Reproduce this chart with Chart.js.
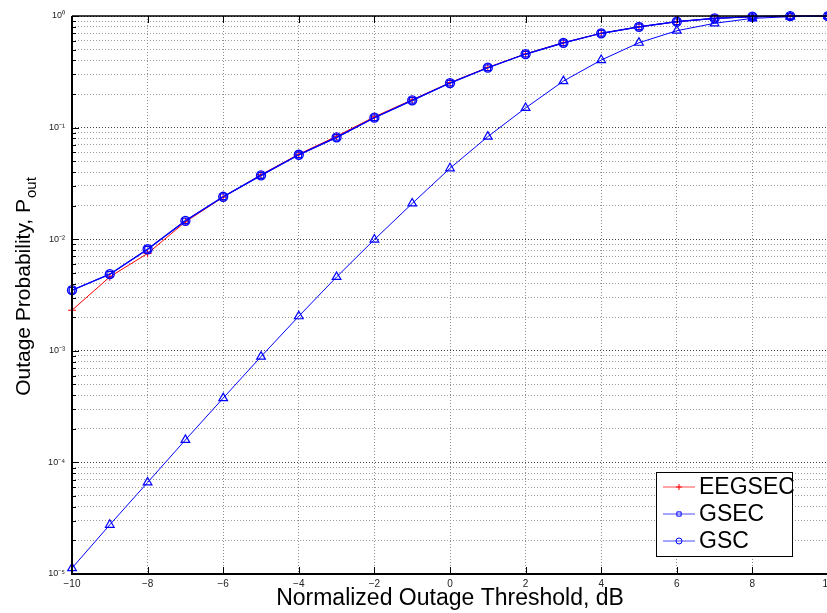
<!DOCTYPE html>
<html>
<head>
<meta charset="utf-8">
<title>Outage probability</title>
<script src="https://cdn.jsdelivr.net/npm/chart.js@4/dist/chart.umd.min.js"></script>
<style>
    html, body { margin: 0; padding: 0; background: #fff; overflow: hidden; }
    #outageChart { display: block; }
</style>
</head>
<body>
<canvas id="outageChart" width="850" height="613"></canvas>
<script>
// normalized outage threshold (dB)
var thresholds = [-10, -9, -8, -7, -6, -5, -4, -3, -2, -1, 0, 1, 2, 3, 4, 5, 6, 7, 8, 9, 10];

var eegsecValues = [2.31e-3, 4.60e-3, 7.45e-3, 0.0143, 0.0238, 0.0378, 0.0578, 0.0836, 0.1250, 0.1775, 0.2530, 0.3460, 0.4580, 0.5770,
    0.700, 0.800, 0.889, 0.953, 0.986, 0.996, 0.999];
var gsecValues = [3.49e-3, 4.85e-3, 8.13e-3, 0.0146, 0.0240, 0.0373, 0.0570, 0.0817, 0.1225, 0.1754, 0.2506, 0.3440, 0.4560, 0.5750,
    0.700, 0.800, 0.889, 0.953, 0.986, 0.996, 0.999];
var gscValues = [3.49e-3, 4.86e-3, 8.13e-3, 0.0146, 0.0240, 0.0373, 0.0571, 0.0818, 0.1226, 0.1755, 0.2507, 0.3440, 0.4560, 0.5750,
    0.700, 0.800, 0.889, 0.953, 0.986, 0.996, 0.999];
var lowerValues = [1.13e-5, 2.76e-5, 6.61e-5, 1.59e-4, 3.77e-4, 8.87e-4, 2.04e-3, 4.59e-3, 9.93e-3, 0.0209, 0.0432, 0.0830, 0.1500, 0.2610,
    0.403, 0.576, 0.738, 0.860, 0.953, 0.986, 0.997];

// x tick positions and y decade labels
var xTicks = [-10, -8, -6, -4, -2, 0, 2, 4, 6, 8, 10];
var yDecades = [1e-5, 1e-4, 1e-3, 1e-2, 1e-1, 1];
var yDecadeLabels = ['10\u207B\u2075', '10\u207B\u2074', '10\u207B\u00B3', '10\u207B\u00B2', '10\u207B\u00B9', '10\u2070'];

var fontFamily = '"Liberation Sans", Arial, Helvetica, sans-serif';

function toPoints(values) {
    return thresholds.map(function (t, i) { return {x: t, y: values[i]}; });
}

function isDecade(v) {
    var l = Math.log10(v);
    return Math.abs(l - Math.round(l)) < 1e-9;
}

// log ticks: 1..9 in every decade
function logTickValues() {
    var vals = [];
    for (var e = -5; e < 0; e++) {
        for (var m = 1; m < 10; m++) {
            vals.push(parseFloat((m * Math.pow(10, e)).toPrecision(6)));
        }
    }
    vals.push(1);
    return vals;
}

// ------- frame, inward tick marks and y title
var framePlugin = {
    id: 'frame',
    afterDraw: function (chart) {
        var ctx = chart.ctx;
        var area = chart.chartArea;
        var xs = chart.scales.x;
        var ys = chart.scales.y;

        ctx.save();
        ctx.strokeStyle = '#000';

        // tick marks pointing into the plot
        ctx.lineWidth = 1;
        ctx.beginPath();
        xTicks.forEach(function (t) {
            var px = Math.round(xs.getPixelForValue(t)) + 0.5;
            ctx.moveTo(px, area.bottom);
            ctx.lineTo(px, area.bottom - 7);
            ctx.moveTo(px, area.top);
            ctx.lineTo(px, area.top + 7);
        });
        logTickValues().forEach(function (v) {
            var py = Math.round(ys.getPixelForValue(v)) + 0.5;
            var len = isDecade(v) ? 7 : 4;
            ctx.moveTo(area.left, py);
            ctx.lineTo(area.left + len, py);
        });
        ctx.stroke();

        // axes box
        ctx.lineWidth = 2;
        ctx.beginPath();
        ctx.moveTo(area.left, area.top);
        ctx.lineTo(area.left, area.bottom);
        ctx.lineTo(area.right, area.bottom);
        ctx.stroke();
        ctx.lineWidth = 1.5;
        ctx.beginPath();
        ctx.moveTo(area.left, area.top);
        ctx.lineTo(area.right, area.top);
        ctx.stroke();

        // y title with subscript
        var main = 'Outage Probability, P';
        var sub = 'out';
        ctx.fillStyle = '#000';
        ctx.font = '21px ' + fontFamily;
        var w1 = ctx.measureText(main).width;
        ctx.font = '15px ' + fontFamily;
        var w2 = ctx.measureText(sub).width;
        var cy = (area.top + area.bottom) / 2 - 8;
        ctx.translate(30, cy);
        ctx.rotate(-Math.PI / 2);
        ctx.textBaseline = 'alphabetic';
        ctx.textAlign = 'left';
        var start = -(w1 + w2) / 2;
        ctx.font = '21px ' + fontFamily;
        ctx.fillText(main, start, 0);
        ctx.font = '15px ' + fontFamily;
        ctx.fillText(sub, start + w1 + 1, 6);
        ctx.restore();
    }
};

// ------- legend box inside the plot (first three series)
var legendPlugin = {
    id: 'boxLegend',
    afterDraw: function (chart) {
        var ctx = chart.ctx;
        var area = chart.chartArea;
        var boxRight = area.right - 36;
        var boxBottom = area.bottom - 18;
        var boxW = 136, boxH = 84;
        var bx = boxRight - boxW, by = boxBottom - boxH;

        ctx.save();
        ctx.fillStyle = '#fff';
        ctx.fillRect(bx, by, boxW, boxH);
        ctx.strokeStyle = '#000';
        ctx.lineWidth = 1;
        ctx.strokeRect(bx + 0.5, by + 0.5, boxW, boxH);

        ctx.font = '23px ' + fontFamily;
        ctx.textBaseline = 'middle';
        ctx.textAlign = 'left';
        for (var i = 0; i < 3; i++) {
            var ds = chart.data.datasets[i];
            var rowY = by + 15 + i * 27;
            ctx.strokeStyle = ds.borderColor;
            ctx.globalAlpha = 0.7;
            ctx.lineWidth = 1;
            ctx.beginPath();
            ctx.moveTo(bx + 7, rowY);
            ctx.lineTo(bx + 39, rowY);
            ctx.stroke();
            ctx.globalAlpha = 1;
            ctx.fillStyle = 'rgba(0,0,0,0)';
            Chart.helpers.drawPoint(ctx, {
                pointStyle: ds.pointStyle,
                radius: 3,
                borderWidth: 1,
                rotation: 0
            }, bx + 23, rowY);
            ctx.fillStyle = '#000';
            ctx.fillText(ds.label, bx + 43, rowY + 1);
        }
        ctx.restore();
    }
};

var outageCanvas = document.getElementById('outageChart').getContext('2d');

var outageChartData = {
    datasets: [
        {
            label: 'EEGSEC',
            data: toPoints(eegsecValues),
            borderColor: '#ff0000',
            borderWidth: 1,
            pointStyle: 'cross',
            pointRadius: 4,
            pointBorderColor: '#ff0000',
            pointBorderWidth: 1,
            pointBackgroundColor: 'rgba(0,0,0,0)',
            order: 3
        },
        {
            label: 'GSEC',
            data: toPoints(gsecValues),
            borderColor: '#0000ff',
            borderWidth: 1.2,
            pointStyle: 'rect',
            pointRadius: 4,
            pointBorderColor: '#0000ff',
            pointBorderWidth: 1.3,
            pointBackgroundColor: 'rgba(0,0,0,0)',
            order: 2
        },
        {
            label: 'GSC',
            data: toPoints(gscValues),
            borderColor: '#0000ff',
            borderWidth: 1.2,
            pointStyle: 'circle',
            pointRadius: 4.5,
            pointBorderColor: '#0000ff',
            pointBorderWidth: 1.3,
            pointBackgroundColor: 'rgba(0,0,0,0)',
            order: 1
        },
        {
            label: '',
            data: toPoints(lowerValues),
            borderColor: '#0000ff',
            borderWidth: 1,
            pointStyle: 'triangle',
            pointRadius: 5,
            pointBorderColor: '#0000ff',
            pointBorderWidth: 1.2,
            pointBackgroundColor: 'rgba(0,0,0,0)',
            order: 0
        }
    ]
};

var outageChartOptions = {
    responsive: false,
    animation: false,
    clip: false,
    layout: {padding: {top: 16, right: 22, left: 0, bottom: 0}},
    plugins: {
        legend: {display: false},
        tooltip: {enabled: false}
    },
    elements: {line: {tension: 0}},
    scales: {
        x: {
            type: 'linear',
            min: -10,
            max: 10,
            afterBuildTicks: function (scale) {
                scale.ticks = xTicks.map(function (v) { return {value: v}; });
            },
            afterFit: function (scale) { scale.height = 39; },
            ticks: {
                autoSkip: false,
                maxRotation: 0,
                padding: 4,
                color: '#222',
                font: {family: fontFamily, size: 10},
                callback: function (v) { return String(v).replace('-', '\u2212'); }
            },
            grid: {
                color: '#8c8c8c',
                lineWidth: 1,
                drawTicks: false
            },
            border: {display: false, dash: [1, 2]},
            title: {
                display: true,
                text: 'Normalized Outage Threshold, dB',
                color: '#000',
                font: {family: fontFamily, size: 23},
                padding: {top: 0, bottom: 1}
            }
        },
        y: {
            type: 'logarithmic',
            min: 1e-5,
            max: 1,
            afterBuildTicks: function (scale) {
                scale.ticks = logTickValues().map(function (v) { return {value: v, major: isDecade(v)}; });
            },
            afterFit: function (scale) { scale.width = 72; },
            ticks: {
                autoSkip: false,
                padding: 7,
                color: '#222',
                font: {family: fontFamily, size: 9},
                callback: function (v) {
                    var k = yDecades.findIndex(function (d) { return Math.abs(d - v) / d < 1e-6; });
                    return k >= 0 ? yDecadeLabels[k] : '';
                }
            },
            grid: {
                color: function (c) { return c.tick && isDecade(c.tick.value) ? '#404040' : '#9a9a9a'; },
                lineWidth: 1,
                drawTicks: false
            },
            border: {display: false, dash: [1, 2]}
        }
    }
};

new Chart(outageCanvas, {
    type: 'line',
    data: outageChartData,
    options: outageChartOptions,
    plugins: [framePlugin, legendPlugin]
});
</script>
</body>
</html>
